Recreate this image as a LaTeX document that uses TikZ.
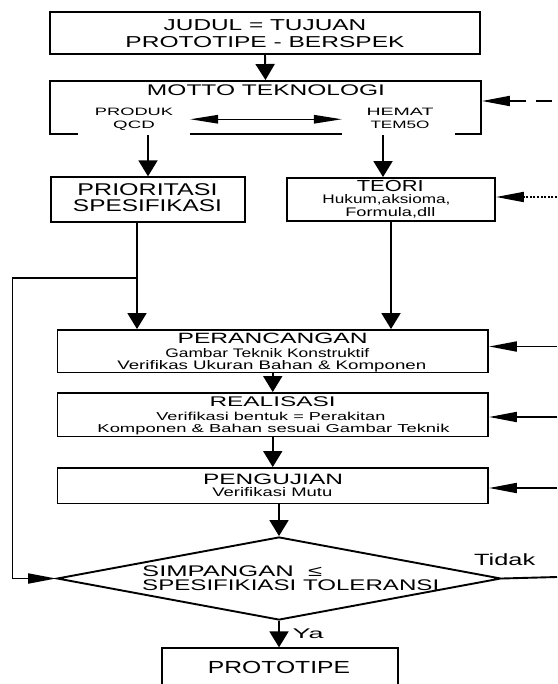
\documentclass[tikz,border=0pt]{standalone}
\usepackage{fontspec}
\setmainfont{Liberation Sans}
\usetikzlibrary{arrows.meta,shapes.geometric}
\newcommand{\wt}[3]{\resizebox{#2pt}{\height}{\fontsize{#1pt}{#1pt}\selectfont #3}}
\tikzset{
  ln/.style={line width=1.9pt},
  box/.style={draw, ln, rectangle, inner sep=0pt},
  patch/.style={fill=white, draw=none, inner sep=0pt, minimum width=#1, minimum height=32.5pt},
  txt/.style={inner sep=0pt, anchor=base},
  txtw/.style={inner sep=0pt, anchor=base west},
  va/.style={ln, -{Triangle[length=16pt,width=19pt]}},
  ha/.style={ln, -{Triangle[length=28pt,width=10pt]}},
  da/.style={line width=1.4pt, {Triangle[length=28pt,width=8.5pt]}-{Triangle[length=28pt,width=8.5pt]}},
}
\begin{document}
\begin{tikzpicture}[x=1pt,y=-1pt]
\useasboundingbox (0,0) rectangle (557,684);
\clip (0,0) rectangle (557,684);
\fill[white] (0,0) rectangle (557,684);
% boxes
\node[box, minimum width=430pt, minimum height=42pt] (judul) at (265,33) {};
\node[box, minimum width=431pt, minimum height=53pt] (motto) at (265.5,107.5) {};
\node[box, minimum width=194pt, minimum height=44.4pt] (prior) at (148,199.5) {};
\node[box, minimum width=208pt, minimum height=43pt] (teori) at (391,199.5) {};
\node[box, minimum width=430.5pt, minimum height=42.5pt] (peranc) at (272.75,351.25) {};
\node[box, minimum width=430.5pt, minimum height=43.5pt] (realis) at (272.75,414.75) {};
\node[box, minimum width=430.5pt, minimum height=35.5pt] (penguj) at (272.75,485.75) {};
\node[draw, ln, diamond, inner sep=0pt, minimum width=444pt, minimum height=83pt] (dia) at (279,578.5) {};
\node[box, minimum width=236pt, minimum height=72pt] (proto) at (280,684.3) {};
% white text boxes inside MOTTO
\node[patch=112pt] (produk) at (134,119.25) {};
\node[patch=113pt] (hemat) at (398.5,119.25) {};
% texts
\node[txt] (t1) at (265,30.7) {\wt{15.8}{202.5}{JUDUL = TUJUAN}};
\node[txt] (t2) at (265,47.3) {\wt{15.8}{279}{PROTOTIPE - BERSPEK}};
\node[txt] (t3) at (266,96) {\wt{15.4}{238}{MOTTO TEKNOLOGI}};
\node[txt] (t4) at (134,115.5) {\wt{10.7}{78}{PRODUK}};
\node[txt] (t5) at (134,128.3) {\wt{10.7}{41.5}{QCD}};
\node[txt] (t6) at (400,115.5) {\wt{10.7}{67}{HEMAT}};
\node[txt] (t7) at (400,128.3) {\wt{10.7}{59}{TEM5O}};
\node[txt] (t8) at (147.5,196) {\wt{17}{140}{PRIORITASI}};
\node[txt] (t9) at (147.5,211.7) {\wt{17}{149}{SPESIFIKASI}};
\node[txt] (t10) at (390.3,191.7) {\wt{16}{67}{TEORI}};
\node[txt] (t11) at (386.5,204) {\wt{12.4}{128}{Hukum,aksioma,}};
\node[txt] (t12) at (390.3,216.7) {\wt{12.4}{90}{Formula,dll}};
\node[txt] (t13) at (272.6,343.5) {\wt{14.9}{190}{PERANCANGAN}};
\node[txt] (t14) at (267.3,357) {\wt{12.4}{204}{Gambar Teknik Konstruktif}};
\node[txt] (t15) at (271.8,369) {\wt{12.4}{309}{Verifikas Ukuran Bahan \& Komponen}};
\node[txt] (t16) at (272.6,406) {\wt{14}{126}{REALISASI}};
\node[txt] (t17) at (270.9,420.7) {\wt{11.5}{229}{Verifikasi bentuk = Perakitan}};
\node[txt] (t18) at (273.5,432.5) {\wt{11.5}{352}{Komponen \& Bahan sesuai Gambar Teknik}};
\node[txt] (t19) at (273,484) {\wt{15}{140}{PENGUJIAN}};
\node[txt] (t20) at (272.3,496.7) {\wt{12.4}{120}{Verifikasi Mutu}};
\node[txtw] (t21) at (142,576) {\wt{15.4}{180}{SIMPANGAN\ \ ≤}};
\node[txtw] (t22) at (142,590.7) {\wt{15.4}{297}{SPESIFIKIASI TOLERANSI}};
\node[txtw] (t23) at (474,565) {\wt{16.3}{61}{Tidak}};
\node[txtw] (t24) at (292.5,638.3) {\wt{14}{31}{Ya}};
\node[txt] (t25) at (279,673.3) {\wt{17.5}{142}{PROTOTIPE}};
% helper coordinates
\coordinate (tx) at (383,0);
\coordinate (px) at (137,0);
\coordinate (jn) at (137,278);
\coordinate (lc) at (12.5,278);
\coordinate (r1) at (557,101);
\coordinate (r2) at (557,197);
\coordinate (r3) at (557,346.5);
\coordinate (r4) at (557,417);
\coordinate (r5) at (557,488);
\coordinate (r6) at (557,577);
% connectors
\draw[va] (judul.south) -- (motto.north);
\draw[da] (produk.east) -- (hemat.west);
\draw[va] (prior.north |- motto.south) -- (prior.north);
\draw[va] (tx |- motto.south) -- (tx |- teori.north);
\draw[va] (px |- prior.south) -- (px |- peranc.north);
\draw[ha] (jn) -- (lc) |- (dia.west);
\draw[va] (teori.south) -- (teori.south |- peranc.north);
\draw[va] (peranc.south) -- (realis.north);
\draw[va] (realis.south) -- (penguj.north);
\draw[va] (dia.north |- penguj.south) -- (dia.north);
\draw[va] (dia.south) -- (dia.south |- proto.north);
\draw[ln] (dia.east) -- (r6);
\draw[ha, dash pattern=on 16pt off 10pt, dash phase=21pt] (r1) -- (r1 -| motto.east);
\draw[ha, dash pattern=on 2pt off 1.6pt] (r2) -- (r2 -| teori.east);
\draw[ha] (r3) -- (r3 -| peranc.east);
\draw[ha] (r4) -- (r4 -| realis.east);
\draw[ha] (r5) -- (r5 -| penguj.east);
\end{tikzpicture}
\end{document}
